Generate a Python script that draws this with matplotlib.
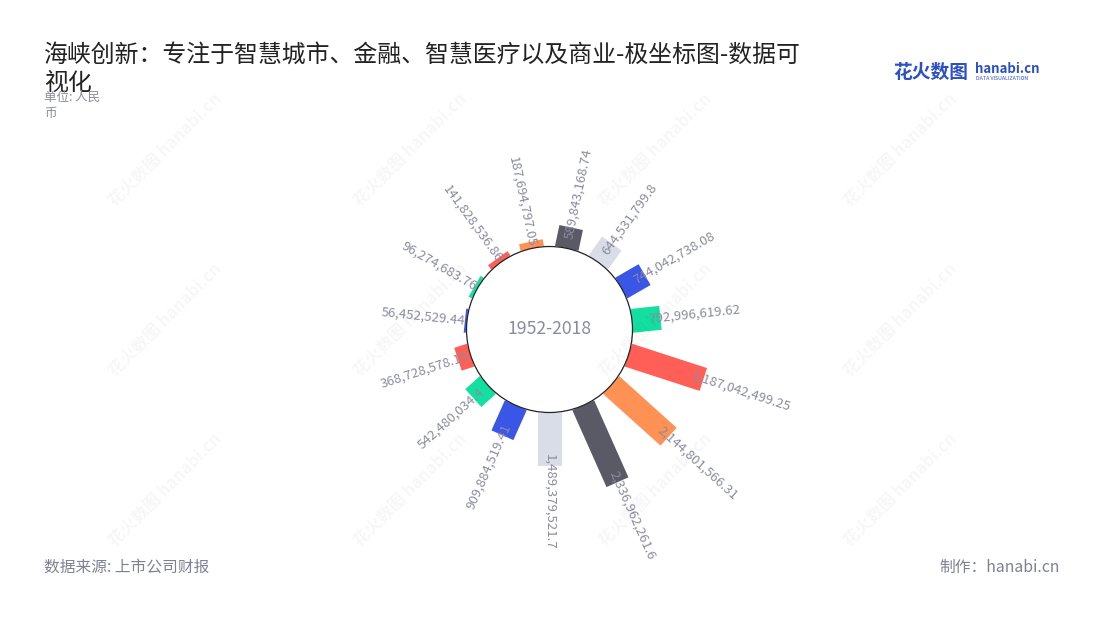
import numpy as np
import matplotlib
matplotlib.use('Agg')
from matplotlib import pyplot as plt
from matplotlib.transforms import Affine2D
from matplotlib.patches import Circle

plt.rcParams['font.family'] = ['Noto Sans CJK SC', 'DejaVu Sans']

# Datos (valor en yuanes), en sentido horario desde arriba
valores = [589843168.74, 644531799.8, 744042738.08, 792996619.62,
           2187042499.25, 2144801566.31, 2336962261.6, 1489379521.7,
           909884519.41, 542480034.4, 368728578.15, 56452529.44,
           96274683.76, 141828536.86, 187694797.05]
etiquetas = ['589,843,168.74', '644,531,799.8', '744,042,738.08', '792,996,619.62',
             '2,187,042,499.25', '2,144,801,566.31', '2,336,962,261.6', '1,489,379,521.7',
             '909,884,519.41', '542,480,034.4', '368,728,578.15', '56,452,529.44',
             '96,274,683.76', '141,828,536.86', '187,694,797.05']
colores = ['#5a5a66', '#d9dde8', '#3a56e6', '#13e0a0', '#ff5f57', '#ff9155',
           '#5a5a66', '#d9dde8', '#3a56e6', '#13e0a0', '#ff5f57', '#3a56e6',
           '#13e0a0', '#ff5f57', '#ff9155']
periodo = '1952-2018'

W, H = 1100, 620
fig = plt.figure(figsize=(W/100, H/100), dpi=100)

# ejes cartesianos centrados en el circulo, 36 px por cada 1e9
cx, cy = 549.5, 329.5
P = 200.0
escala = 36.0
L = P/escala
hueco = 83.0/escala
ancho = 24.0/escala
ax = fig.add_axes([(cx-P)/W, (H-cy-P)/H, 2*P/W, 2*P/H])
ax.set_xlim(-L, L)
ax.set_ylim(-L, L)
ax.axis('off')

n = len(valores)
paso = 360.0/n
for i, (v, c, txt) in enumerate(zip(valores, colores, etiquetas)):
    th = paso/2 + paso*i
    vb = v/1e9
    rot = Affine2D().rotate_deg(-th) + ax.transData
    ax.bar(0, vb, bottom=hueco, width=ancho, color=c, transform=rot, zorder=2)
    # etiqueta radial
    ra = hueco + max(vb - 0.33, 0.06)
    t = np.deg2rad(th)
    x, y = ra*np.sin(t), ra*np.cos(t)
    if th <= 180:
        ax.text(x, y, txt, rotation=90-th, rotation_mode='anchor', ha='left', va='center',
                fontsize=9.5, color='#8a8ba0', zorder=3)
    else:
        ax.text(x, y, txt, rotation=270-th, rotation_mode='anchor', ha='right', va='center',
                fontsize=9.5, color='#8a8ba0', zorder=3)

ax.add_patch(Circle((0, 0), hueco, facecolor='white', edgecolor='#222222', linewidth=0.9, zorder=2.5))
ax.text(0, 0, periodo, ha='center', va='center', fontsize=12.7, color='#8a8ba0', zorder=4)

# marcas de agua
for wx in [165, 410, 655, 900]:
    for wy in [150, 320, 490]:
        fig.text(wx/W, 1-wy/H, '花火数图 hanabi.cn', rotation=45, ha='center', va='center',
                 fontsize=12, fontweight='bold', color='#000000', alpha=0.035)

# titulos
fig.text(44/W, 1-55/H, '海峡创新：专注于智慧城市、金融、智慧医疗以及商业-极坐标图-数据可',
         fontsize=17.2, color='#222222', va='center')
fig.text(44/W, 1-83/H, '视化', fontsize=17.2, color='#222222', va='center')
fig.text(44/W, 1-97/H, '单位: 人民', fontsize=9, color='#8a8ba0', va='center')
fig.text(44/W, 1-113/H, '币', fontsize=9, color='#8a8ba0', va='center')

# logo
fig.text(893/W, 1-72/H, '花火数图', fontsize=13.5, fontweight='bold', color='#2b4fc4', va='center')
fig.text(975/W, 1-69/H, 'hanabi.cn', fontsize=9.5, fontweight='bold', color='#2b4fc4', va='center')
fig.text(976/W, 1-79/H, 'DATA VISUALIZATION', fontsize=3.8, color='#2b4fc4', va='center')

# pie
fig.text(44/W, 1-567/H, '数据来源: 上市公司财报', fontsize=11.3, color='#7f8093', va='center')
fig.text(1060/W, 1-567/H, '制作：hanabi.cn', fontsize=11.3, color='#7f8093', va='center', ha='right')

fig.savefig('out.png', dpi=100)
